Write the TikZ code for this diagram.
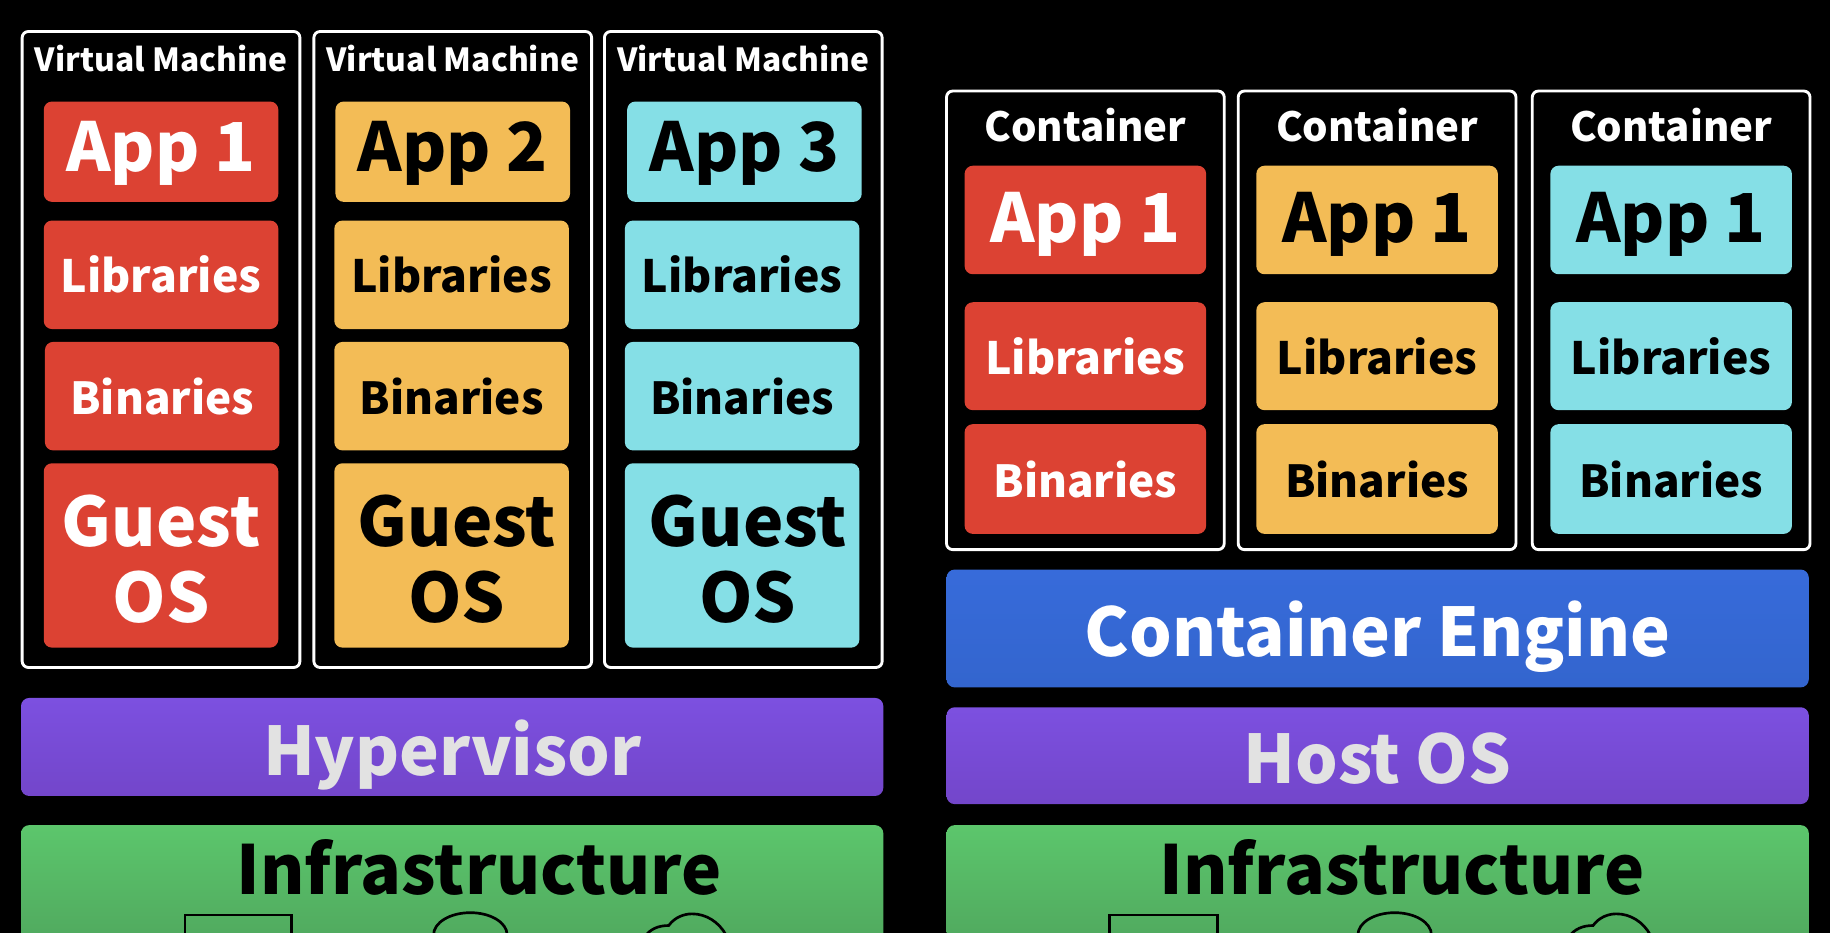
\documentclass[tikz,border=0pt]{standalone}
\usepackage{fontspec}
\setmainfont{Noto Sans CJK JP}
\usepackage{xcolor}
\usepackage{tikz}
\usetikzlibrary{positioning}
\definecolor{AppRed}{HTML}{DC4233}
\definecolor{AppOrange}{HTML}{F3BC56}
\definecolor{AppCyan}{HTML}{85DFE6}
\definecolor{PurpleTop}{HTML}{7C50E0}
\definecolor{PurpleBottom}{HTML}{7346CA}
\definecolor{BlueTop}{HTML}{376BDA}
\definecolor{BlueBottom}{HTML}{3365CE}
\definecolor{InfraTop}{HTML}{5CC66C}
\definecolor{InfraBottom}{HTML}{4FA65D}
\definecolor{SoftWhite}{HTML}{E2E2E2}

\begin{document}
\begin{tikzpicture}[
    x=0.02cm, y=-0.02cm,
    font=\bfseries,
    node distance=0.22cm,
    frame/.style={rectangle, rounded corners=3pt, draw=white, fill=black, line width=1.4pt, outer sep=0pt, inner sep=0pt, anchor=north west},
    vmframe/.style={frame, minimum width=4.76cm, minimum height=10.9cm},
    ctframe/.style={frame, minimum width=4.76cm, minimum height=7.86cm},
    box/.style={rectangle, rounded corners=4pt, align=center, outer sep=0pt, inner sep=0pt},
    vmapp/.style={box, minimum width=4.02cm, minimum height=1.72cm, text height=0.68cm, text depth=0pt, font=\bfseries\fontsize{32.9}{36}\selectfont},
    vmlib/.style={box, minimum width=4.02cm, minimum height=1.86cm, font=\bfseries\fontsize{21.7}{26}\selectfont},
    vmbin/.style={box, minimum width=4.02cm, minimum height=1.86cm, font=\bfseries\fontsize{21.5}{26}\selectfont},
    guest/.style={box, minimum width=4.02cm, minimum height=3.16cm, font=\bfseries\fontsize{33.2}{37}\selectfont},
    ctapp/.style={box, minimum width=4.14cm, minimum height=1.86cm, text height=0.76cm, text depth=0pt, font=\bfseries\fontsize{32.9}{36}\selectfont},
    ctlib/.style={box, minimum width=4.14cm, minimum height=1.85cm, font=\bfseries\fontsize{21.7}{26}\selectfont},
    ctbin/.style={box, minimum width=4.14cm, minimum height=1.88cm, font=\bfseries\fontsize{21.5}{26}\selectfont},
    redbox/.style={fill=AppRed, text=white},
    orangebox/.style={fill=AppOrange, text=black},
    cyanbox/.style={fill=AppCyan, text=black},
    vmtitle/.style={text=white, inner sep=0pt, font=\bfseries\fontsize{15.5}{18}\selectfont},
    cttitle/.style={text=white, inner sep=0pt, font=\bfseries\fontsize{19.6}{22}\selectfont},
    layer/.style={box, anchor=north west, minimum width=14.78cm, text=SoftWhite, text height=0.97cm, text depth=0pt, font=\bfseries\fontsize{32.7}{38}\selectfont},
    purplelayer/.style={layer, top color=PurpleTop, bottom color=PurpleBottom},
    bluelayer/.style={layer, top color=BlueTop, bottom color=BlueBottom, text=white},
    infra/.style={rectangle, rounded corners=4pt, anchor=north west, minimum width=14.78cm, minimum height=2.2cm, top color=InfraTop, bottom color=InfraBottom, outer sep=0pt, inner sep=0pt},
    infratitle/.style={text=black, inner sep=0pt, font=\bfseries\fontsize{33}{38}\selectfont},
    icon/.style={draw=black, line width=1.3pt}
]
\useasboundingbox (0,0) rectangle (1568,798.6);
\fill[black] (-10,-10) rectangle (1578,820);

% virtual machines
\node[vmframe] (vm1) at (19,27) {};
\node[vmframe, right=0.24cm of vm1.east, anchor=west] (vm2) {};
\node[vmframe, right=0.22cm of vm2.east, anchor=west] (vm3) {};
\node[vmtitle, below=0.22cm of vm1.north] (vmt1) {Virtual Machine};
\node[vmtitle, below=0.22cm of vm2.north] (vmt2) {Virtual Machine};
\node[vmtitle, below=0.22cm of vm3.north] (vmt3) {Virtual Machine};

\node[vmapp, redbox, below=1.2cm of vm1.north] (app1) {App 1};
\node[vmlib, redbox, below=0.32cm of app1] (lib1) {Libraries};
\node[vmbin, redbox, below=of lib1, xshift=0.02cm] (bin1) {Binaries};
\node[guest, redbox, below=of bin1, xshift=-0.02cm] (os1) {\rule{0pt}{1cm}Guest\\OS};

\node[vmapp, orangebox, below=1.2cm of vm2.north] (app2) {App 2};
\node[vmlib, orangebox, below=0.32cm of app2, xshift=-0.02cm] (lib2) {Libraries};
\node[vmbin, orangebox, below=of lib2] (bin2) {Binaries};
\node[guest, orangebox, below=of bin2] (os2) {\hspace*{0.18cm}\rule{0pt}{1cm}Guest\\\hspace*{0.18cm}OS};

\node[vmapp, cyanbox, below=1.2cm of vm3.north, xshift=0.02cm] (app3) {App 3};
\node[vmlib, cyanbox, below=0.32cm of app3, xshift=-0.04cm] (lib3) {Libraries};
\node[vmbin, cyanbox, below=of lib3] (bin3) {Binaries};
\node[guest, cyanbox, below=of bin3] (os3) {\hspace*{0.2cm}\rule{0pt}{1cm}Guest\\\hspace*{0.2cm}OS};

\node[purplelayer, minimum height=1.68cm] (hyper) at (18,598) {Hypervisor};
\node[infra] (infraL) at (18,707) {};
\node[infratitle, below=0.24cm of infraL.north, xshift=0.46cm] (infraLt) {Infrastructure};

% containers
\node[ctframe] (ct1) at (811,78) {};
\node[ctframe, right=0.24cm of ct1.east, anchor=west] (ct2) {};
\node[ctframe, right=0.28cm of ct2.east, anchor=west] (ct3) {};
\node[cttitle, below=0.28cm of ct1.north] (ctt1) {Container};
\node[cttitle, below=0.28cm of ct2.north] (ctt2) {Container};
\node[cttitle, below=0.28cm of ct3.north] (ctt3) {Container};

\node[ctapp, redbox, below=1.28cm of ct1.north] (capp1) {App 1};
\node[ctlib, redbox, below=0.48cm of capp1] (clib1) {Libraries};
\node[ctbin, redbox, below=0.24cm of clib1] (cbin1) {Binaries};

\node[ctapp, orangebox, below=1.28cm of ct2.north] (capp2) {App 1};
\node[ctlib, orangebox, below=0.48cm of capp2] (clib2) {Libraries};
\node[ctbin, orangebox, below=0.24cm of clib2] (cbin2) {Binaries};

\node[ctapp, cyanbox, below=1.28cm of ct3.north] (capp3) {App 1};
\node[ctlib, cyanbox, below=0.48cm of capp3] (clib3) {Libraries};
\node[ctbin, cyanbox, below=0.24cm of clib3] (cbin3) {Binaries};

\node[bluelayer, minimum height=2.02cm] (engine) at (811,488) {Container Engine};
\node[purplelayer, minimum height=1.66cm] (host) at (811,606) {Host OS};
\node[infra] (infraR) at (811,707) {};
\node[infratitle, below=0.24cm of infraR.north, xshift=0.42cm] (infraRt) {Infrastructure};

% icons, cut off by the lower edge
\draw[icon] (158.5,815) -- (158.5,784) -- (250,784) -- (250,815);
\draw[icon] (403,801) ellipse[x radius=31.5, y radius=19];
\draw[icon] (552,803) .. controls (557,796) and (564,793) .. (573,793) .. controls (578,786) and (586,783) .. (593,783) .. controls (605,783) and (616,790) .. (622,801);

\draw[icon] (950.5,815) -- (950.5,784) -- (1043,784) -- (1043,815);
\draw[icon] (1195,801) ellipse[x radius=31.5, y radius=19];
\draw[icon] (1344,803) .. controls (1349,796) and (1356,793) .. (1365,793) .. controls (1370,786) and (1378,783) .. (1385,783) .. controls (1397,783) and (1408,790) .. (1414,801);
\end{tikzpicture}
\end{document}
